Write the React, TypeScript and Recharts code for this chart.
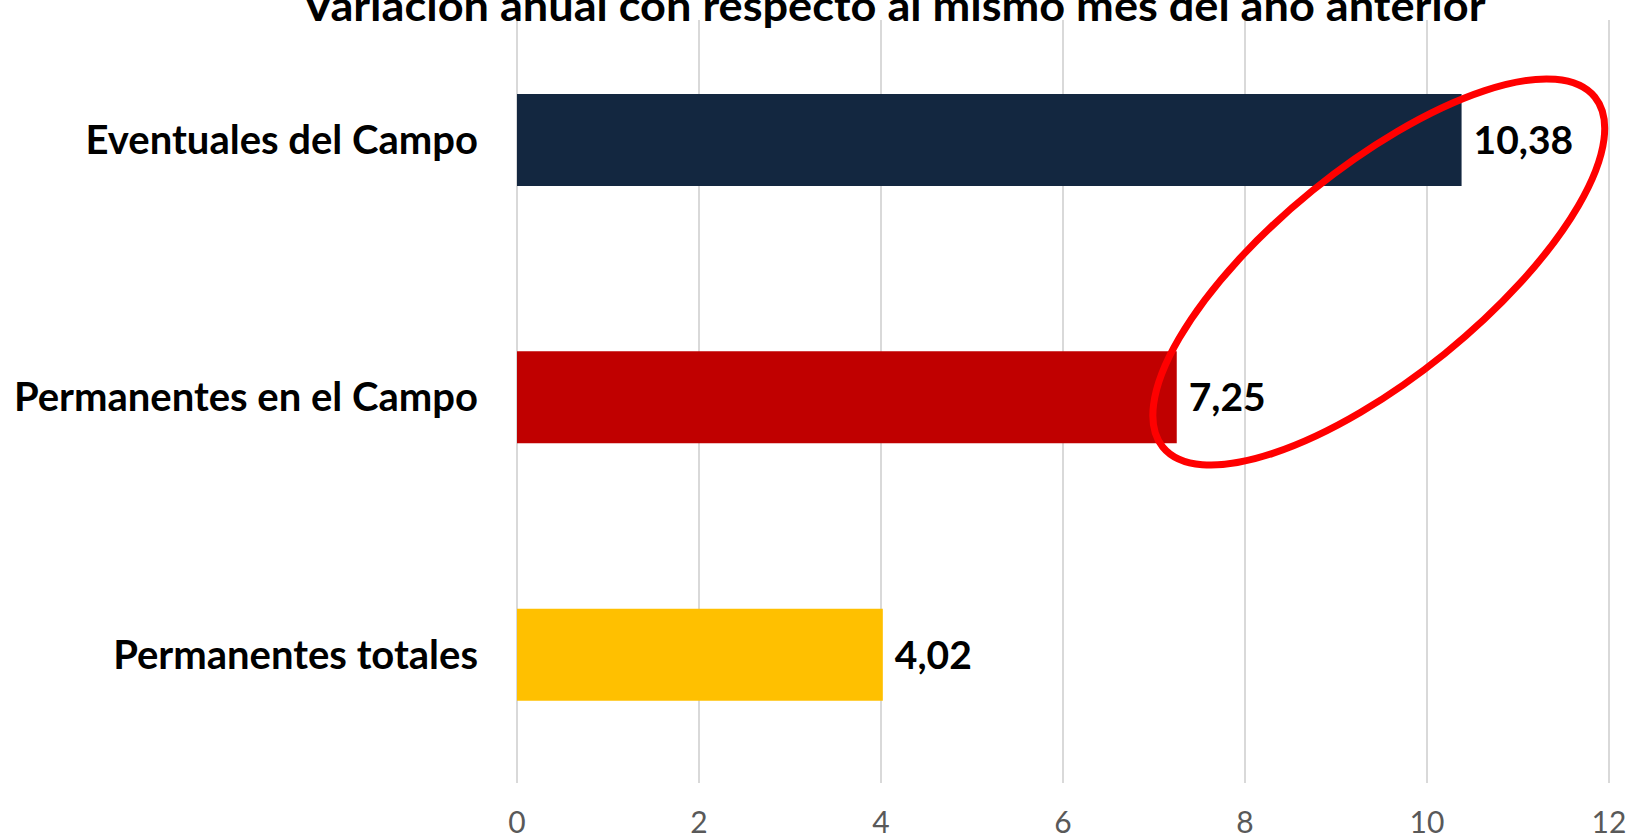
import { BarChart, Bar, XAxis, YAxis, CartesianGrid, Cell, LabelList, ReferenceDot } from 'recharts'

const categories = ['Eventuales del Campo', 'Permanentes en el Campo', 'Permanentes totales']
const values = [10.38, 7.25, 4.02]
const colors = ['#132740', '#C00000', '#FFC000']
const xTicks = [0, 2, 4, 6, 8, 10, 12]
const title = 'Variación anual con respecto al mismo mes del año anterior'

const data = categories.map((name, i) => ({ name, value: values[i] }))

const FONT = 'Lato, "Open Sans", sans-serif'

const fmt = (v: number) => v.toFixed(2).replace('.', ',')

// red ellipse drawn around the two top values
const Ellipse = (props: any) => {
  const { cx, cy } = props
  if (cx == null || cy == null) return <g />
  const y = cy - 125
  return (
    <ellipse
      cx={cx}
      cy={y}
      rx={278}
      ry={105}
      transform={`rotate(-39 ${cx} ${y})`}
      fill="none"
      stroke="#FF0000"
      strokeWidth={7}
    />
  )
}

export default function App() {
  return (
    <div style={{ position: 'absolute', left: 0, top: 0, width: 1627, height: 837, background: '#fff', fontFamily: FONT }}>
      <BarChart
        width={1627}
        height={837}
        data={data}
        layout="vertical"
        margin={{ top: 11, right: 18, bottom: 0, left: 0 }}
        barSize={92}
      >
        <CartesianGrid horizontal={false} stroke="#D9D9D9" strokeWidth={2} />
        <XAxis
          type="number"
          domain={[0, 12]}
          ticks={xTicks}
          interval={0}
          axisLine={false}
          tickLine={false}
          tickSize={0}
          tickMargin={29}
          height={54}
          tick={{ fill: '#595959', fontSize: 30, fontFamily: FONT }}
        />
        <YAxis
          type="category"
          dataKey="name"
          width={517}
          axisLine={false}
          tickLine={false}
          tickSize={0}
          tickMargin={39}
          tick={{ fill: '#000', fontSize: 40, fontWeight: 700, fontFamily: FONT }}
        />
        <Bar dataKey="value" isAnimationActive={false}>
          {data.map((d, i) => (
            <Cell key={d.name} fill={colors[i]} />
          ))}
          <LabelList
            dataKey="value"
            position="right"
            offset={12}
            formatter={(v: any) => fmt(Number(v))}
            style={{ fill: '#000', fontSize: 39, fontWeight: 700, fontFamily: FONT }}
          />
        </Bar>
        <ReferenceDot x={9.47} y={categories[1]} shape={Ellipse} ifOverflow="visible" />
      </BarChart>
      <svg width={1627} height={32} style={{ position: 'absolute', left: 0, top: 0 }}>
        <rect x={0} y={0} width={1627} height={20} fill="#fff" />
        <text
          x={894}
          y={21}
          textAnchor="middle"
          fontSize={42}
          fontWeight={700}
          fontFamily={FONT}
          fill="#000"
          textLength={1183}
          lengthAdjust="spacingAndGlyphs"
        >
          {title}
        </text>
      </svg>
    </div>
  )
}
